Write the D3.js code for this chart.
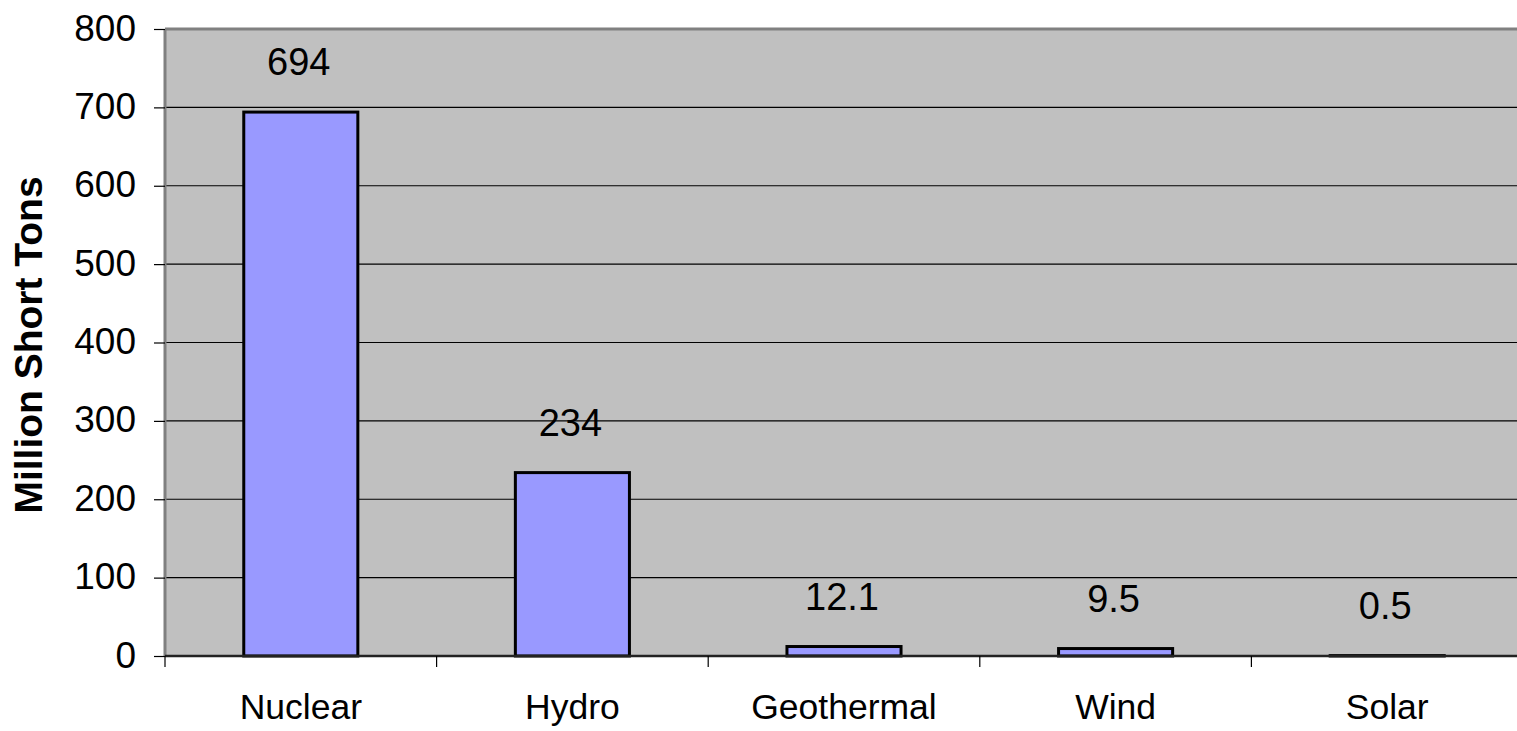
<!DOCTYPE html>
<html>
<head>
<meta charset="utf-8">
<script src="https://cdn.jsdelivr.net/npm/d3@7"></script>
<style>
    body { margin: 0; background: #fff; overflow: hidden; }
    text { font-family: "Liberation Sans", Arial, sans-serif; fill: #000; }
</style>
</head>
<body>
<div id="chart"></div>
<script>
// Data
const categories = ["Nuclear", "Hydro", "Geothermal", "Wind", "Solar"];
const values = [694, 234, 12.1, 9.5, 0.5];
const valueLabels = ["694", "234", "12.1", "9.5", "0.5"];
const yTicks = [0, 100, 200, 300, 400, 500, 600, 700, 800];

const W = 1517, H = 731;
const margin = {top: 29, right: -6, bottom: 75, left: 165};
const width = W - margin.left - margin.right;
const height = H - margin.top - margin.bottom;

const svg = d3.select("#chart").append("svg")
    .attr("width", W)
    .attr("height", H);

const g = svg.append("g")
    .attr("transform", `translate(${margin.left}, ${margin.top})`);

// Scales
const x = d3.scaleBand()
    .domain(categories)
    .range([0, width])
    .padding(0);
const y = d3.scaleLinear()
    .domain([0, 800])
    .range([height, 0]);

// Plot background
g.append("rect")
    .attr("x", 0)
    .attr("y", 0)
    .attr("width", width)
    .attr("height", height)
    .attr("fill", "#c0c0c0");

// Gridlines
g.selectAll(".grid")
    .data(yTicks.filter(d => d > 0 && d < 800))
    .enter()
    .append("line")
    .attr("x1", 0)
    .attr("x2", width)
    .attr("y1", d => y(d))
    .attr("y2", d => y(d))
    .attr("stroke", "#000")
    .attr("stroke-width", 1.2);

// Plot border (top and left, gray)
g.append("line")
    .attr("x1", 0).attr("x2", width)
    .attr("y1", 0).attr("y2", 0)
    .attr("stroke", "#808080").attr("stroke-width", 3);
g.append("line")
    .attr("x1", 0).attr("x2", 0)
    .attr("y1", 0).attr("y2", height)
    .attr("stroke", "#808080").attr("stroke-width", 3);

// Bars
const barW = x.bandwidth() * 0.42;
g.selectAll(".bar")
    .data(values)
    .enter()
    .append("rect")
    .attr("class", "bar")
    .attr("x", (d, i) => x(categories[i]) + x.bandwidth() / 2 - barW / 2)
    .attr("y", d => y(d))
    .attr("width", barW)
    .attr("height", d => y(0) - y(d))
    .attr("fill", "#9999ff")
    .attr("stroke", "#000")
    .attr("stroke-width", 3);

// Value labels
g.selectAll(".val")
    .data(values)
    .enter()
    .append("text")
    .attr("x", (d, i) => x(categories[i]) + x.bandwidth() / 2 - 2)
    .attr("y", d => y(d) - 37)
    .attr("text-anchor", "middle")
    .style("font-size", "38px")
    .text((d, i) => valueLabels[i]);

// X axis
g.append("line")
    .attr("x1", 0).attr("x2", width)
    .attr("y1", height).attr("y2", height)
    .attr("stroke", "#222").attr("stroke-width", 2.5);
g.selectAll(".xtick")
    .data(categories.concat([null]))
    .enter()
    .append("line")
    .attr("x1", (d, i) => i * x.step())
    .attr("x2", (d, i) => i * x.step())
    .attr("y1", height)
    .attr("y2", height + 11)
    .attr("stroke", "#000")
    .attr("stroke-width", 1.2);
g.selectAll(".xlab")
    .data(categories)
    .enter()
    .append("text")
    .attr("x", d => x(d) + x.bandwidth() / 2)
    .attr("y", height + 63)
    .attr("text-anchor", "middle")
    .style("font-size", "35.5px")
    .text(d => d);

// Y axis
const yAxis = d3.axisLeft(y).tickValues(yTicks).tickSize(11).tickPadding(18);
const yAxisGroup = g.append("g").call(yAxis);
yAxisGroup.select(".domain").remove();
yAxisGroup.selectAll(".tick line").attr("stroke", "#000").attr("stroke-width", 1.2);
yAxisGroup.selectAll(".tick text")
    .attr("fill", "#000")
    .style("font-family", "'Liberation Sans', Arial, sans-serif")
    .style("font-size", "37px")
    .attr("dy", "0.3em");

// Y axis label
svg.append("g")
    .attr("transform", `translate(42, 345) rotate(-90)`)
    .append("text")
    .attr("text-anchor", "middle")
    .style("font-size", "39px")
    .style("font-weight", "bold")
    .text("Million Short Tons");
</script>
</body>
</html>
